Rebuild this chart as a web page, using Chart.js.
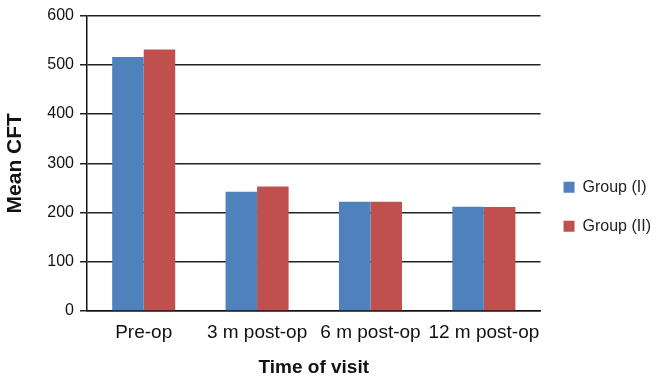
<!DOCTYPE html>
<html>
<head>
<meta charset="utf-8">
<script src="https://cdn.jsdelivr.net/npm/chart.js@4.4.0/dist/chart.umd.min.js"></script>
<style>
  html, body { margin: 0; padding: 0; background: #fff; }
  #wrap { width: 658px; height: 383px; position: relative; }
</style>
</head>
<body>
<div id="wrap"><canvas id="cft-chart"></canvas></div>
<script>
var visits = ["Pre-op", "3 m post-op", "6 m post-op", "12 m post-op"];
var groupOne = [516, 242, 222, 212];
var groupTwo = [531, 253, 222, 211];
var yTicks = [0, 100, 200, 300, 400, 500, 600];

var fam = "Liberation Sans, Arial, sans-serif";

var ctx = document.getElementById("cft-chart");

var myChart = new Chart(ctx, {
    type: 'bar',
    data: {
        labels: visits,
        datasets: [{
            label: "Group (I)",
            data: groupOne,
            backgroundColor: "#4F81BD",
            barPercentage: 1,
            categoryPercentage: 0.556
        },
        {
            label: "Group (II)",
            data: groupTwo,
            backgroundColor: "#C0504D",
            barPercentage: 1,
            categoryPercentage: 0.556
        }]
    },
    options: {
        responsive: true,
        maintainAspectRatio: false,
        animation: false,
        layout: { padding: { top: 6, right: -3, left: 3, bottom: 4 } },
        plugins: {
            tooltip: { enabled: false },
            legend: {
                display: true,
                position: 'right',
                // blank title just pushes the two entries down a little
                title: { display: true, text: ' ', font: { size: 12 }, padding: 7 },
                labels: {
                    boxWidth: 11,
                    boxHeight: 11,
                    padding: 23,
                    color: '#222',
                    font: { family: fam, size: 16 }
                }
            }
        },
        scales: {
            x: {
                afterFit: function (scale) { scale.height = 68; },
                grid: { display: false, drawTicks: false },
                border: { display: true, color: '#111', width: 1.5 },
                ticks: { color: '#111', font: { family: fam, size: 19 }, padding: 10,
                         autoSkip: false, maxRotation: 0, minRotation: 0 },
                title: { display: true, text: "Time of visit", color: '#111',
                         font: { family: fam, size: 19, weight: "bold" }, padding: 0 }
            },
            y: {
                min: 0,
                max: 600,
                afterBuildTicks: function (axis) {
                    axis.ticks = yTicks.map(function (v) { return { value: v }; });
                },
                afterFit: function (scale) { scale.width = 84; },
                grid: { color: '#222', lineWidth: 1.5, tickLength: 7 },
                border: { display: true, color: '#111', width: 1.5 },
                ticks: { color: '#111', font: { family: fam, size: 16 }, padding: 6 },
                title: { display: true, text: "Mean CFT", color: '#111',
                         font: { family: fam, size: 21, weight: "bold" }, padding: 0 }
            }
        }
    }
});
</script>
</body>
</html>
